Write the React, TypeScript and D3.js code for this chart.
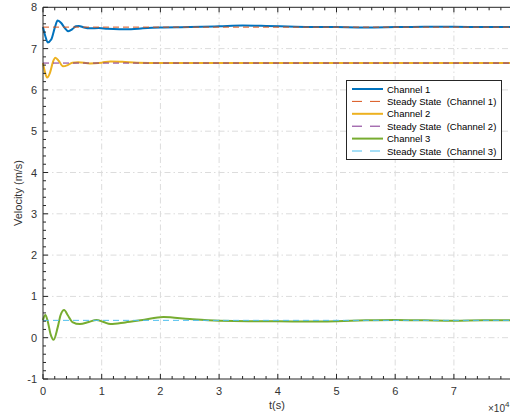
import React, { useEffect, useRef } from 'react';
import * as d3 from 'd3';

// time in units of 1e4 s
const ch1T = [0, 0.04, 0.08, 0.14, 0.2, 0.25, 0.31, 0.37, 0.43, 0.5, 0.56, 0.61, 0.7, 0.8, 0.95, 1.1, 1.3, 1.5, 1.7, 2.0, 2.5, 3.0, 3.4, 3.8, 4.3, 5, 5.5, 6, 6.5, 7, 7.5, 8];
const ch1V = [7.52, 7.3, 7.15, 7.22, 7.5, 7.68, 7.62, 7.5, 7.42, 7.47, 7.54, 7.55, 7.51, 7.49, 7.5, 7.48, 7.47, 7.47, 7.49, 7.51, 7.52, 7.54, 7.56, 7.55, 7.53, 7.52, 7.51, 7.52, 7.53, 7.53, 7.52, 7.52];

const ch2T = [0, 0.03, 0.07, 0.12, 0.17, 0.21, 0.27, 0.34, 0.42, 0.5, 0.6, 0.8, 1.0, 1.15, 1.35, 1.6, 2, 2.5, 3, 4, 5, 6, 7, 8];
const ch2V = [6.65, 6.45, 6.3, 6.42, 6.68, 6.78, 6.7, 6.57, 6.6, 6.66, 6.67, 6.64, 6.66, 6.69, 6.68, 6.66, 6.65, 6.65, 6.65, 6.65, 6.65, 6.65, 6.65, 6.65];

const ch3T = [0, 0.04, 0.08, 0.13, 0.18, 0.25, 0.3, 0.36, 0.42, 0.5, 0.63, 0.78, 0.91, 1.03, 1.15, 1.4, 1.7, 2.05, 2.5, 3.0, 3.5, 4, 4.5, 5, 5.5, 6, 6.5, 7, 7.5, 8];
const ch3V = [0.43, 0.55, 0.4, 0.08, -0.05, 0.25, 0.55, 0.67, 0.55, 0.38, 0.33, 0.38, 0.43, 0.38, 0.33, 0.37, 0.43, 0.5, 0.45, 0.41, 0.4, 0.4, 0.39, 0.4, 0.42, 0.43, 0.42, 0.41, 0.42, 0.42];

const steady = [7.52, 6.65, 0.42];

const legendLabels = ['Channel 1', 'Steady State  (Channel 1)', 'Channel 2', 'Steady State  (Channel 2)', 'Channel 3', 'Steady State  (Channel 3)'];
const xTicks = [0, 1, 2, 3, 4, 5, 6, 7];
const yTicks = [-1, 0, 1, 2, 3, 4, 5, 6, 7, 8];

const FONT = '"Liberation Sans", Arial, sans-serif';

const App = () => {
    const svgRef = useRef<SVGSVGElement>(null);

    useEffect(() => {
        if (!svgRef.current) return;
        const svg = d3.select(svgRef.current);
        svg.selectAll('*').remove();

        const x = d3.scaleLinear().domain([0, 8]).range([43, 512.6]);
        const y = d3.scaleLinear().domain([-1, 8]).range([379, 7.3]);
        const [x0, x1] = x.range();
        const [yb, yt] = y.range();

        svg.append('rect').attr('x', x0).attr('y', yt).attr('width', x1 - x0).attr('height', yb - yt).attr('fill', 'white');

        // grid
        const grid = svg.append('g').attr('stroke', '#dcdcdc').attr('stroke-width', 1).attr('stroke-dasharray', '6,3,1.5,3');
        xTicks.filter(t => t > 0).forEach(t => {
            grid.append('line').attr('x1', x(t)).attr('x2', x(t)).attr('y1', yb).attr('y2', yt);
        });
        yTicks.filter(t => t > -1 && t < 8).forEach(t => {
            grid.append('line').attr('x1', x0).attr('x2', x1).attr('y1', y(t)).attr('y2', y(t));
        });

        const line = (ts: number[], vs: number[]) =>
            d3.line<number>().x((_, i) => x(ts[i])).y(v => y(v)).curve(d3.curveMonotoneX)(vs);

        const colors = ['#0072BD', '#D95319', '#EDB120', '#7E2F8E', '#77AC30', '#4DBEEE'];
        const series = [[ch1T, ch1V], [ch2T, ch2V], [ch3T, ch3V]];
        const plot = svg.append('g');
        series.forEach(([ts, vs], k) => {
            plot.append('path').attr('d', line(ts, vs)).attr('fill', 'none')
                .attr('stroke', colors[2 * k]).attr('stroke-width', 2);
            plot.append('line').attr('x1', x(0)).attr('x2', x(8)).attr('y1', y(steady[k])).attr('y2', y(steady[k]))
                .attr('stroke', colors[2 * k + 1]).attr('stroke-width', 1).attr('stroke-dasharray', '6,4');
        });

        // axes box + ticks
        const ax = svg.append('g').attr('stroke', '#262626').attr('stroke-width', 1);
        ax.append('line').attr('x1', x0).attr('x2', x1).attr('y1', yb).attr('y2', yb);
        ax.append('line').attr('x1', x0).attr('x2', x1).attr('y1', yt).attr('y2', yt);
        ax.append('line').attr('x1', x0).attr('x2', x0).attr('y1', yb).attr('y2', yt);
        d3.range(0, 8.01, 0.2).forEach(t => {
            const major = Math.abs(t - Math.round(t)) < 1e-6;
            const len = major ? 5 : 3;
            ax.append('line').attr('x1', x(t)).attr('x2', x(t)).attr('y1', yb).attr('y2', yb - len);
            ax.append('line').attr('x1', x(t)).attr('x2', x(t)).attr('y1', yt).attr('y2', yt + len);
        });
        d3.range(-1, 8.01, 0.2).forEach(v => {
            const major = Math.abs(v - Math.round(v)) < 1e-6;
            const len = major ? 5 : 3;
            ax.append('line').attr('x1', x0).attr('x2', x0 + len).attr('y1', y(v)).attr('y2', y(v));
        });

        const txt = svg.append('g').attr('font-family', FONT).attr('font-size', 11).attr('fill', '#333');
        xTicks.forEach(t => {
            txt.append('text').attr('x', x(t)).attr('y', yb + 16).attr('text-anchor', 'middle').text(t);
        });
        yTicks.forEach(v => {
            txt.append('text').attr('x', x0 - 6).attr('y', y(v) + 4).attr('text-anchor', 'end').text(v);
        });
        txt.append('text').attr('x', 277).attr('y', 409).attr('text-anchor', 'middle').text('t(s)');
        txt.append('text').attr('transform', 'translate(22,193) rotate(-90)').attr('text-anchor', 'middle').text('Velocity (m/s)');
        const exp = txt.append('text').attr('x', 488).attr('y', 412).attr('font-size', 10);
        exp.append('tspan').text('×10');
        exp.append('tspan').attr('dy', -5).attr('font-size', 8).text('4');

        // legend
        const lg = svg.append('g');
        lg.append('rect').attr('x', 346.5).attr('y', 80.5).attr('width', 155).attr('height', 79)
            .attr('fill', 'white').attr('stroke', '#262626').attr('stroke-width', 1);
        legendLabels.forEach((lab, i) => {
            const ly = 89 + i * 12.4;
            lg.append('line').attr('x1', 352).attr('x2', 383).attr('y1', ly).attr('y2', ly)
                .attr('stroke', colors[i]).attr('stroke-width', i % 2 === 0 ? 2 : 1)
                .attr('stroke-dasharray', i % 2 === 0 ? null : '10,8');
            lg.append('text').attr('x', 387).attr('y', ly + 3.5).attr('font-family', FONT)
                .attr('font-size', 9.5).attr('fill', '#000').style('white-space', 'pre').text(lab);
        });
    }, []);

    return (
        <svg ref={svgRef} width={510} height={414} style={{ position: 'absolute', left: 0, top: 0 }} />
    );
};

export default App;
